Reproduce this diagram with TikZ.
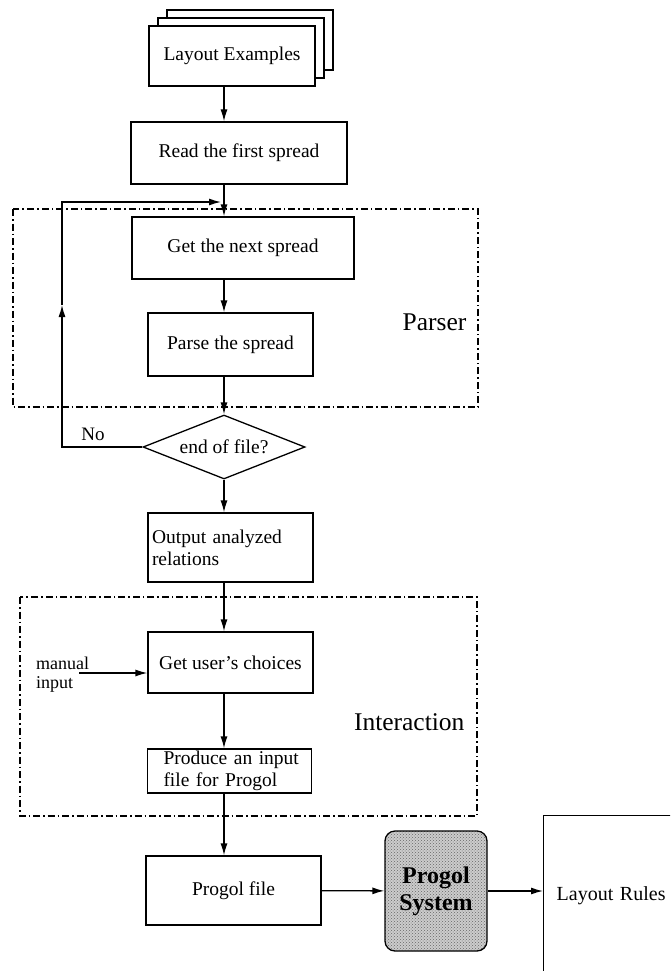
\documentclass[tikz,border=0pt]{standalone}
\usepackage{fontspec}
\setmainfont{Liberation Serif}
\usetikzlibrary{arrows.meta,positioning,shapes.geometric,shadows,patterns}

\begin{document}
\begin{tikzpicture}[x=1pt,y=-1pt,
    box/.style={draw, line width=1.3pt, fill=white, inner sep=4pt, font=\fontsize{19.5}{22}\selectfont},
    arr/.style={-{Latex[length=12pt,width=7pt]}, line width=1.3pt},
    frame/.style={line width=1.2pt, dash pattern=on 7pt off 3pt on 1.5pt off 3pt},
    tag/.style={font=\fontsize{25.5}{28}\selectfont, anchor=east},
    note/.style={font=\fontsize{18}{19}\selectfont}]
    \useasboundingbox (0,0) rectangle (670,971);
    \clip (0,0) rectangle (670,971);
    \coordinate (axis) at (224,0);

    % Parser and Interaction frames
    \draw[frame] (13,209) rectangle (478,407);
    \draw[frame] (20,597) rectangle (477,816);
    \node[tag] (parser) at (470,322) {Parser};
    \node[tag] (inter) at (468,722) {Interaction};

    % Boxes
    \node[box, minimum width=166pt, minimum height=60pt,
        double copy shadow={shadow xshift=9pt, shadow yshift=8pt, draw, fill=white, line width=1.3pt}]
        (examples) at (232,56) {Layout Examples};
    \node[box, minimum width=216pt, minimum height=62pt] (read) at (239,153) {Read the first spread};
    \node[box, minimum width=222pt, minimum height=62pt] (getnext) at (243,248) {Get the next spread};
    \node[box, minimum width=165pt, minimum height=63pt] (parse) at (230.5,344.5) {Parse the spread};
    \node[box, shape=diamond, aspect=2.5, inner sep=0pt, minimum width=162pt, minimum height=64pt]
        (eof) at (224,447) {end of file?};
    \node[box, minimum width=165pt, minimum height=69pt, text width=157pt, align=left]
        (output) at (230.5,547.5) {Output analyzed\\relations};
    \node[box, minimum width=165pt, minimum height=61pt] (choices) at (230.5,662.5) {Get user's choices};
    \node[box, text width=144pt, inner xsep=10pt, inner ysep=2pt, minimum height=44pt, align=left]
        (produce) at (229.5,771) {\hspace*{6pt}Produce an input\\\hspace*{6pt}file for Progol};
    \node[box, minimum width=175pt, minimum height=69pt] (pfile) at (233.5,890.5) {Progol file};
    \node[draw, line width=1.3pt, rounded corners=10pt, minimum width=102pt, minimum height=120pt,
        preaction={fill=gray!40}, pattern=crosshatch dots, pattern color=black!60, align=center,
        font=\fontsize{24}{27}\selectfont\bfseries] (psys) at (436,891) {Progol\\System};
    \node[draw, line width=1.3pt, anchor=north west, minimum height=160pt, text width=174pt,
        inner xsep=13pt, align=left, font=\fontsize{20}{24}\selectfont] (rules) at (543,815) {Layout Rules};

    % Flow
    \draw[arr] (examples.south -| axis) -- (read.north -| axis);
    \draw[arr] (read.south -| axis) -- (getnext.north -| axis);
    \draw[arr] (getnext.south -| axis) -- (parse.north -| axis);
    \draw[arr] (parse.south -| axis) -- (eof.north);
    \draw[arr] (eof.south) -- (output.north -| axis);
    \draw[arr] (output.south -| axis) -- (choices.north -| axis);
    \draw[arr] (choices.south -| axis) -- (produce.north -| axis);
    \draw[arr] (produce.south -| axis) -- (pfile.north -| axis);
    \draw[arr] (pfile) -- (psys);
    \draw[arr] (psys.east) -- (psys.east -| rules.west);

    % Loop back
    \coordinate (upmid) at (62,305);
    \coordinate (join) at (221,202);
    \draw[arr] (eof.west) -| (upmid);
    \draw[arr] (upmid) |- (join);
    \node[note, font=\fontsize{19}{20}\selectfont] (no) at (93,434) {No};

    % Manual input
    \node[note, align=left, anchor=west, inner sep=0pt] (manual) at (36,675) {manual\\input};
    \coordinate (mi) at (79,673);
    \draw[arr] (mi) -- (mi -| choices.west);
\end{tikzpicture}
\end{document}
